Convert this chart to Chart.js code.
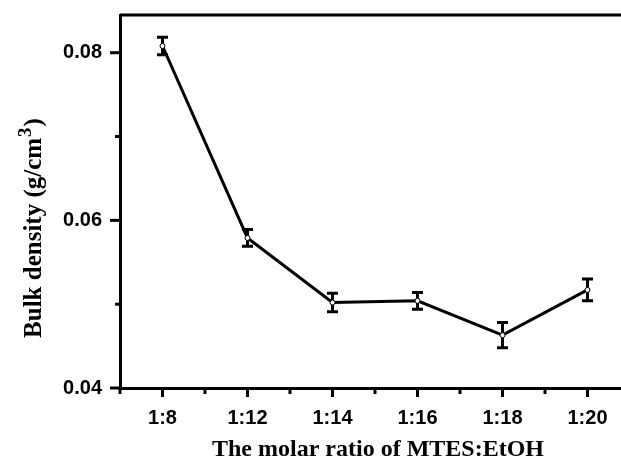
<!DOCTYPE html>
<html>
<head>
<meta charset="utf-8">
<script src="https://cdn.jsdelivr.net/npm/chart.js@4"></script>
<style>
  html, body { margin: 0; padding: 0; background: #fff; overflow: hidden; }
  #wrap { width: 640px; height: 459px; }
</style>
</head>
<body>
<div id="wrap"><canvas id="myChart" width="640" height="459"></canvas></div>
<script>
const categories = ['1:8', '1:12', '1:14', '1:16', '1:18', '1:20'];
const density = [0.0808, 0.0579, 0.0502, 0.0504, 0.0463, 0.0517];
const densityErr = [0.00105, 0.001, 0.0011, 0.001, 0.0015, 0.0013];
const yTicks = [0.04, 0.05, 0.06, 0.07, 0.08];
const yLabels = ['0.04', '', '0.06', '', '0.08'];

const serif = '"Liberation Serif", "Times New Roman", serif';

// ticks, error bars, frame and axis titles
const extras = {
  id: 'extras',
  beforeDatasetsDraw(chart) {
    const ctx = chart.ctx;
    const x = chart.scales.x, y = chart.scales.y;
    ctx.save();
    ctx.strokeStyle = '#000';
    ctx.lineWidth = 3;
    // error bars
    density.forEach((v, i) => {
      const px = x.getPixelForValue(i);
      const top = y.getPixelForValue(v + densityErr[i]);
      const bot = y.getPixelForValue(v - densityErr[i]);
      ctx.beginPath();
      ctx.moveTo(px, top); ctx.lineTo(px, bot);
      ctx.moveTo(px - 5.5, top); ctx.lineTo(px + 5.5, top);
      ctx.moveTo(px - 5.5, bot); ctx.lineTo(px + 5.5, bot);
      ctx.stroke();
    });
    ctx.restore();
  },
  afterDraw(chart) {
    const ctx = chart.ctx;
    const x = chart.scales.x, y = chart.scales.y;
    const a = chart.chartArea;
    ctx.save();
    ctx.strokeStyle = '#000';
    ctx.lineWidth = 3;
    ctx.beginPath();
    ctx.moveTo(a.left, a.top); ctx.lineTo(a.right, a.top);
    ctx.lineTo(a.right, a.bottom);
    ctx.stroke();
    // y ticks
    yTicks.forEach((t, i) => {
      const py = y.getPixelForValue(t);
      const len = yLabels[i] ? 10 : 5;
      ctx.beginPath();
      ctx.moveTo(a.left - len, py); ctx.lineTo(a.left, py);
      ctx.stroke();
    });
    // x ticks
    for (let k = -1; k <= 11; k++) {
      const px = x.getPixelForValue(k / 2);
      const len = k % 2 === 0 ? 9 : 6;
      ctx.beginPath();
      ctx.moveTo(px, a.bottom); ctx.lineTo(px, a.bottom + len);
      ctx.stroke();
    }
    // axis titles
    ctx.fillStyle = '#000';
    ctx.font = 'bold 24px ' + serif;
    ctx.textAlign = 'center';
    ctx.textBaseline = 'alphabetic';
    ctx.fillText('The molar ratio of MTES:EtOH', 378, 456);

    ctx.translate(41, 228);
    ctx.rotate(-Math.PI / 2);
    const main = 'Bulk density (g/cm';
    ctx.font = 'bold 25px ' + serif;
    const w1 = ctx.measureText(main).width;
    const w3 = ctx.measureText(')').width;
    ctx.font = 'bold 19px ' + serif;
    const w2 = ctx.measureText('3').width;
    const total = w1 + w2 + w3 + 2;
    let sx = -total / 2;
    ctx.textAlign = 'left';
    ctx.font = 'bold 25px ' + serif;
    ctx.fillText(main, sx, 0);
    sx += w1 + 1;
    ctx.font = 'bold 19px ' + serif;
    ctx.fillText('3', sx, -10);
    sx += w2 + 1;
    ctx.font = 'bold 25px ' + serif;
    ctx.fillText(')', sx, 0);
    ctx.restore();
  }
};

const ctx = document.getElementById('myChart');

new Chart(ctx, {
  type: 'line',
  data: {
    datasets: [{
      data: density.map((v, i) => ({ x: i, y: v })),
      borderColor: '#000',
      borderWidth: 3,
      pointRadius: 2.5,
      pointBorderWidth: 1,
      pointBackgroundColor: '#fff',
      pointBorderColor: '#000',
      tension: 0
    }]
  },
  options: {
    responsive: false,
    animation: false,
    layout: {
      padding: { top: 15, right: 10, left: 0, bottom: 0 }
    },
    plugins: {
      legend: { display: false },
      tooltip: { enabled: false }
    },
    scales: {
      x: {
        type: 'linear',
        min: -0.5,
        max: 5.5,
        afterBuildTicks: (scale) => {
          scale.ticks = categories.map((c, i) => ({ value: i }));
        },
        afterFit: (scale) => {
          scale.height = 71;
          scale.paddingLeft = 0;
          scale.paddingRight = 0;
        },
        grid: { display: false, drawTicks: false },
        border: { display: true, color: '#000', width: 3 },
        ticks: {
          color: '#000',
          padding: 18,
          font: { family: '"Liberation Sans", Arial, sans-serif', size: 20, weight: 'bold' },
          callback: (v) => categories[v]
        }
      },
      y: {
        min: 0.04,
        max: 0.0845,
        afterBuildTicks: (scale) => {
          scale.ticks = yTicks.map(t => ({ value: t }));
        },
        afterFit: (scale) => {
          scale.width = 120;
          scale.paddingTop = 0;
          scale.paddingBottom = 0;
        },
        grid: { display: false, drawTicks: false },
        border: { display: true, color: '#000', width: 3 },
        ticks: {
          color: '#000',
          padding: 18,
          font: { family: '"Liberation Sans", Arial, sans-serif', size: 20, weight: 'bold' },
          callback: (v) => {
            const i = yTicks.findIndex(t => Math.abs(t - v) < 1e-9);
            return i >= 0 ? yLabels[i] : '';
          }
        }
      }
    }
  },
  plugins: [extras]
});
</script>
</body>
</html>
